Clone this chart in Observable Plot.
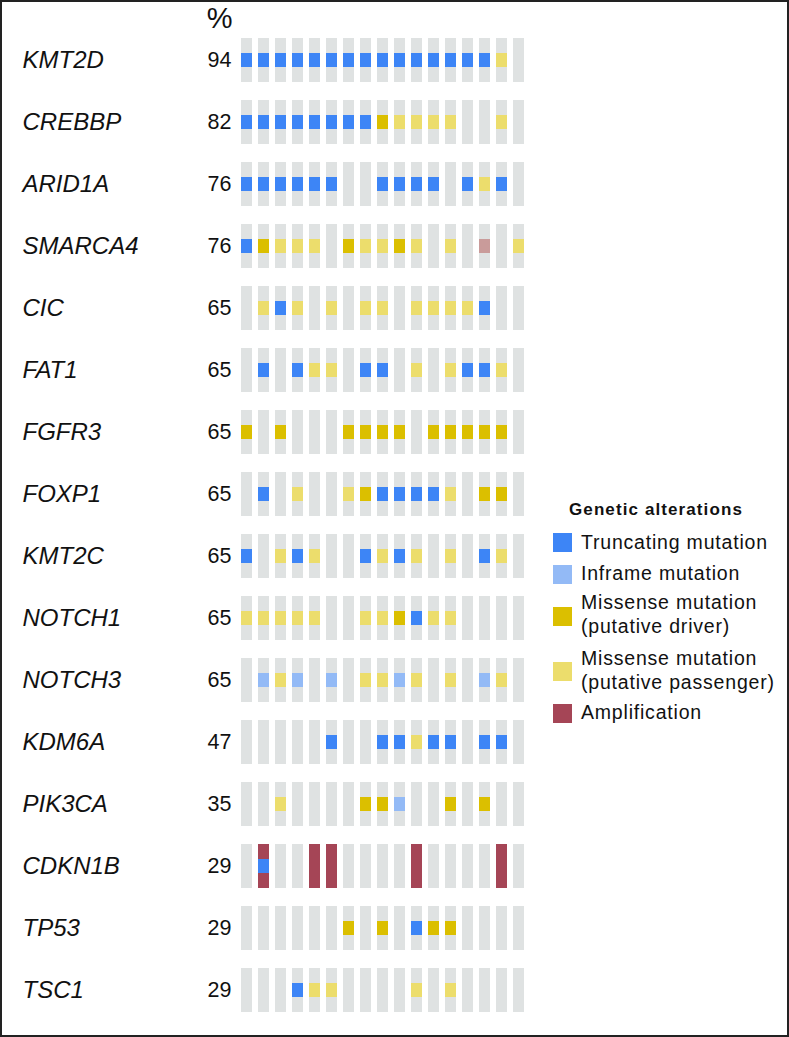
<!DOCTYPE html>
<html>
<head>
<meta charset="utf-8">
<script src="https://cdn.jsdelivr.net/npm/d3@7"></script>
<script src="https://cdn.jsdelivr.net/npm/@observablehq/plot@0.6"></script>
<style>
  html, body { margin: 0; padding: 0; background: #fff; }
  #wrap { position: relative; width: 789px; height: 1037px; overflow: hidden; font-family: "Liberation Sans", Arial, sans-serif; }
  #border { position: absolute; left: 0; top: 0; width: 789px; height: 1037px; box-sizing: border-box; border: 2px solid #222; pointer-events: none; }
  #legend { position: absolute; left: 553px; top: 500px; color: #111; }
  #legend .title { position: absolute; left: 16px; top: 0; font-weight: bold; font-size: 17px; letter-spacing: 1.1px; white-space: nowrap; }
  #legend .sw { position: absolute; left: 0; width: 19px; height: 19px; }
  #legend .lab { position: absolute; left: 28px; font-size: 19.5px; letter-spacing: 0.8px; line-height: 23.5px; white-space: nowrap; }
</style>
</head>
<body>
<div id="wrap">
  <div id="chart"></div>
  <div id="legend"></div>
  <div id="border"></div>
</div>
<script>
// ---- data ----
const genes = ["KMT2D","CREBBP","ARID1A","SMARCA4","CIC","FAT1","FGFR3","FOXP1","KMT2C","NOTCH1","NOTCH3","KDM6A","PIK3CA","CDKN1B","TP53","TSC1"];
const percents = [94, 82, 76, 76, 65, 65, 65, 65, 65, 65, 65, 47, 35, 29, 29, 29];
const samples = ["S1","S2","S3","S4","S5","S6","S7","S8","S9","S10","S11","S12","S13","S14","S15","S16","S17"];
// T truncating, I inframe, D missense driver, P missense passenger, X other, . none
const mutationRows = [
  "TTTTTTTTTTTTTTTP.",
  "TTTTTTTTDPPPP..P.",
  "TTTTTT..TTTT.TPT.",
  "TDPPP.DPPDP.P.X.P",
  ".PTP.P.PP.PPPPT..",
  ".T.TPP.TT.P.PTTP.",
  "D.D...DDDD.DDDDD.",
  ".T.P..PDTTTTP.DD.",
  "T.PTP..TPTP.P.TP.",
  "PPPPP..PPDTPP....",
  ".IPI.I.PPIP.P.IP.",
  ".....T..TTPTT.TT.",
  "..P....DDI..D.D..",
  ".T...............",
  "......D.D.TDD....",
  "...TPP....P.P...."
];
// A amplification
const cnaRows = [
  ".................",
  ".................",
  ".................",
  ".................",
  ".................",
  ".................",
  ".................",
  ".................",
  ".................",
  ".................",
  ".................",
  ".................",
  ".................",
  ".A..AA....A....A.",
  ".................",
  "................."
];
const typeCodes = ["T","I","D","P","A","X"];
const typeNames = ["Truncating mutation","Inframe mutation","Missense mutation (putative driver)","Missense mutation (putative passenger)","Amplification","Other"];
const typeColors = ["#3d85f6","#93baf6","#dbbf00","#ecdd6c","#a54556","#c99b9a"];
const legendCodes = ["T","I","D","P","A"];
const legendLines = [["Truncating mutation"],["Inframe mutation"],["Missense mutation","(putative driver)"],["Missense mutation","(putative passenger)"],["Amplification"]];

// ---- tables ----
const colorOf = Object.fromEntries(typeCodes.map((c, i) => [c, typeColors[i]]));
const grid = [], muts = [], cnas = [];
genes.forEach((g, i) => {
  samples.forEach((s, j) => {
    grid.push({gene: g, sample: s});
    const m = mutationRows[i][j];
    if (m !== ".") muts.push({gene: g, sample: s, type: m});
    const c = cnaRows[i][j];
    if (c !== ".") cnas.push({gene: g, sample: s, type: c});
  });
});
const pctTable = genes.map((g, i) => ({gene: g, pct: percents[i]}));

const chart = Plot.plot({
  width: 789,
  height: 1037,
  margin: 0,
  style: {fontFamily: "'Liberation Sans', Arial, sans-serif", color: "#111", background: "transparent"},
  x: {type: "band", domain: samples, range: [240, 525], paddingInner: 0.33, paddingOuter: 0, axis: null},
  y: {type: "band", domain: genes, range: [34, 1016], paddingInner: 0.297, paddingOuter: 0, axis: null},
  marks: [
    Plot.cell(grid, {x: "sample", y: "gene", fill: "#dfe2e2"}),
    Plot.cell(cnas, {x: "sample", y: "gene", fill: d => colorOf[d.type]}),
    Plot.cell(muts, {x: "sample", y: "gene", fill: d => colorOf[d.type], insetTop: 15, insetBottom: 15}),
    Plot.text(genes, {y: d => d, text: d => d, frameAnchor: "left", dx: 22, textAnchor: "start", fontSize: 24, fontStyle: "italic", fill: "#111"}),
    Plot.text(pctTable, {y: "gene", text: d => String(d.pct), frameAnchor: "left", dx: 231, textAnchor: "end", fontSize: 21.5, fill: "#111"}),
    Plot.text(["%"], {frameAnchor: "top-left", lineAnchor: "middle", dx: 232, dy: 18, textAnchor: "end", fontSize: 29, fill: "#111"})
  ]
});
document.getElementById("chart").appendChild(chart);

// ---- legend ----
const legend = document.getElementById("legend");
const title = document.createElement("div");
title.className = "title";
title.textContent = "Genetic alterations";
legend.appendChild(title);
const swatchTops = [33, 65, 107, 162, 204];
const labelTops = [31, 62, 91, 147, 201];
legendCodes.forEach((code, i) => {
  const sw = document.createElement("div");
  sw.className = "sw";
  sw.style.top = swatchTops[i] + "px";
  sw.style.background = colorOf[code];
  legend.appendChild(sw);
  const lab = document.createElement("div");
  lab.className = "lab";
  lab.style.top = labelTops[i] + "px";
  lab.innerHTML = legendLines[i].join("<br>");
  legend.appendChild(lab);
});
</script>
</body>
</html>
